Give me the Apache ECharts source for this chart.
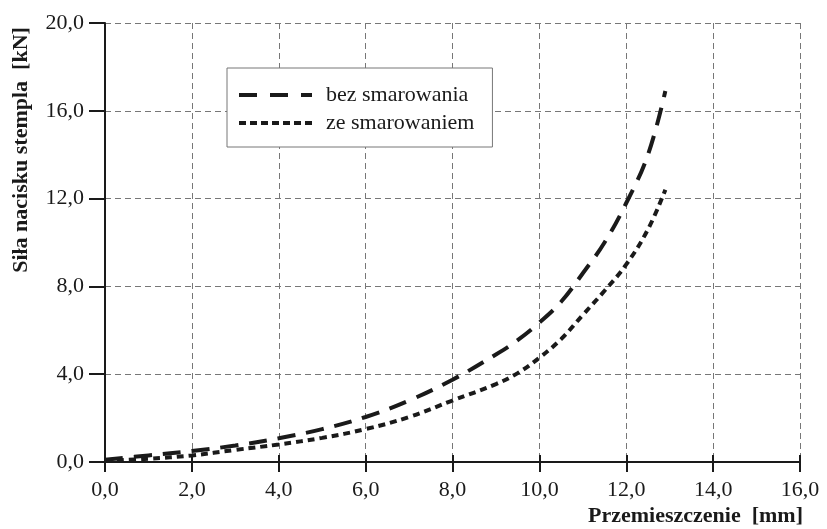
<!DOCTYPE html>
<html>
<head>
<meta charset="utf-8">
<script src="https://cdn.jsdelivr.net/npm/echarts@6/dist/echarts.min.js"></script>
<style>
  html, body { margin: 0; padding: 0; background: #fff; }
  #chart { width: 827px; height: 529px; }
</style>
</head>
<body>
<div id="chart"></div>
<script>
// Punch displacement [mm] and punch force [kN]
const przemieszczenie = [0, 1, 2, 3, 4, 5, 6, 7, 8, 9, 9.5, 10, 10.5, 11, 11.5, 12, 12.5, 12.9];
const bezSmarowania   = [0.1, 0.3, 0.5, 0.75, 1.08, 1.5, 2.05, 2.8, 3.75, 4.9, 5.55, 6.35, 7.3, 8.6, 10.0, 11.8, 14.0, 16.9];
const zeSmarowaniem   = [0.05, 0.15, 0.3, 0.55, 0.8, 1.1, 1.5, 2.05, 2.8, 3.55, 4.05, 4.75, 5.6, 6.7, 7.8, 9.0, 10.6, 12.4];
const seriesNames = ['bez smarowania', 'ze smarowaniem'];
const xTitle = 'Przemieszczenie  [mm]';
const yTitle = 'Siła nacisku stempla  [kN]';

const fmt = v => v.toFixed(1).replace('.', ',');
const pairs = ys => przemieszczenie.map((x, i) => [x, ys[i]]);

const FONT = '"Liberation Serif", "Times New Roman", serif';
const INK = '#1a1a1a';
const dashLong = [18, 11];
const dashShort = [7, 5];

const chart = echarts.init(document.getElementById('chart'), null, { renderer: 'canvas' });

const gridLine = { show: true, lineStyle: { color: '#777', width: 1, type: [6, 4] } };
const noMarker = { opacity: 0, color: 'rgba(0,0,0,0)', borderWidth: 0 };

chart.setOption({
  animation: false,
  backgroundColor: '#fff',
  grid: { left: 105, right: 27, top: 23, bottom: 67, containLabel: false },
  xAxis: [
    {
      type: 'value', min: 0, max: 16, interval: 2,
      axisLine: { show: true, onZero: false, lineStyle: { color: INK, width: 2 } },
      axisTick: { show: true, inside: false, length: 10, lineStyle: { color: INK, width: 2 } },
      axisLabel: { formatter: fmt, color: INK, fontFamily: FONT, fontSize: 22, margin: 17 },
      splitLine: gridLine
    },
    {
      type: 'value', min: 0, max: 16, interval: 2, position: 'bottom',
      axisLine: { show: false },
      axisTick: { show: true, inside: true, length: 7, lineStyle: { color: INK, width: 2 } },
      axisLabel: { show: false },
      splitLine: { show: false }
    }
  ],
  yAxis: {
    type: 'value', min: 0, max: 20, interval: 4,
    axisLine: { show: true, onZero: false, lineStyle: { color: INK, width: 2 } },
    axisTick: { show: true, inside: false, length: 16, lineStyle: { color: INK, width: 2 } },
    axisLabel: { formatter: fmt, color: INK, fontFamily: FONT, fontSize: 22, margin: 21 },
    splitLine: gridLine
  },
  legend: {
    left: 227, top: 68,
    orient: 'vertical',
    backgroundColor: '#fff',
    borderColor: '#777', borderWidth: 1, borderRadius: 0,
    padding: [16, 18, 13, 10],
    itemWidth: 73, itemHeight: 22, itemGap: 6,
    textStyle: { color: INK, fontFamily: FONT, fontSize: 22, padding: [0, 0, 0, 9] },
    data: [
      { name: seriesNames[0], itemStyle: noMarker, lineStyle: { width: 4, type: [18, 13], color: INK } },
      { name: seriesNames[1], itemStyle: noMarker, lineStyle: { width: 4, type: [7, 4], color: INK } }
    ]
  },
  series: [
    {
      name: seriesNames[0], type: 'line', xAxisIndex: 0,
      data: pairs(bezSmarowania),
      smooth: 0.4,
      symbol: 'none', showSymbol: false,
      lineStyle: { color: INK, width: 4, type: dashLong, cap: 'butt' },
      itemStyle: { color: INK },
      z: 5
    },
    {
      name: seriesNames[1], type: 'line', xAxisIndex: 0,
      data: pairs(zeSmarowaniem),
      smooth: 0.4,
      symbol: 'none', showSymbol: false,
      lineStyle: { color: INK, width: 4, type: dashShort, cap: 'butt' },
      itemStyle: { color: INK },
      z: 5
    }
  ],
  graphic: [
    {
      type: 'text', x: 803, y: 516,
      style: { text: xTitle, fill: INK, font: 'bold 22px ' + FONT, align: 'right', verticalAlign: 'middle' }
    },
    {
      type: 'text', x: 21, y: 150, rotation: Math.PI / 2,
      style: { text: yTitle, fill: INK, font: 'bold 22px ' + FONT, align: 'center', verticalAlign: 'middle' }
    }
  ]
});
</script>
</body>
</html>
